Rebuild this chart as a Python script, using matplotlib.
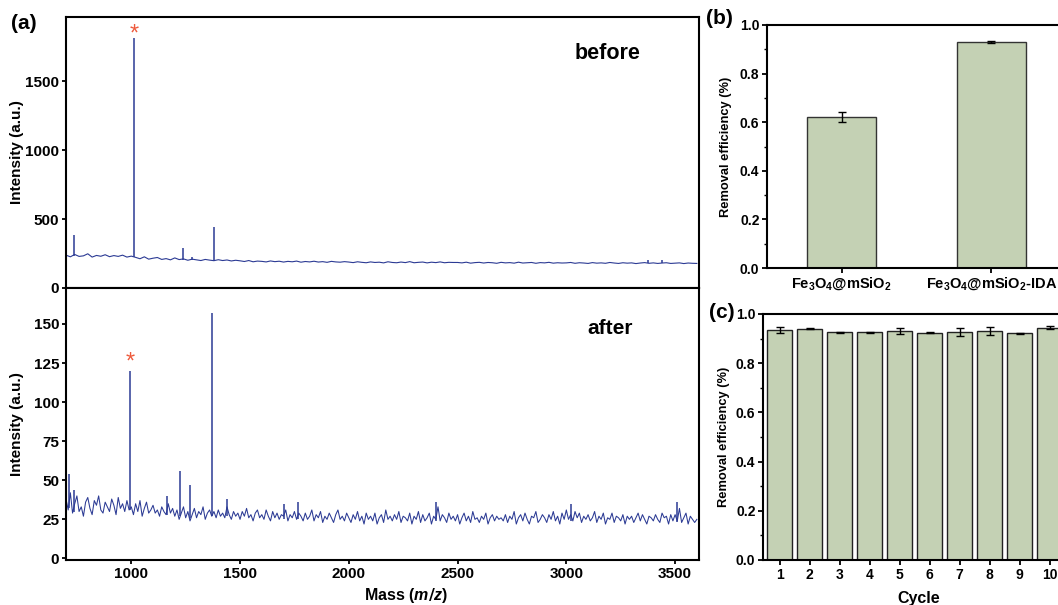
import numpy as np
import matplotlib
matplotlib.use("Agg")
import matplotlib.pyplot as plt
from matplotlib.ticker import MultipleLocator

plt.rcParams['font.family'] = ['Liberation Sans', 'DejaVu Sans']
plt.rcParams['font.weight'] = 'bold'
plt.rcParams['axes.labelweight'] = 'bold'
plt.rcParams['mathtext.fontset'] = 'custom'
plt.rcParams['mathtext.bf'] = 'Liberation Sans:bold'
plt.rcParams['mathtext.it'] = 'Liberation Sans:bold:italic'
plt.rcParams['mathtext.default'] = 'bf'

# ---- (a) MALDI spectra ----
# before: baseline read every 20 m/z (700..3600)
mass_before = np.arange(700, 3601, 20)
before_base = [238, 226, 243, 229, 233, 248, 224, 236, 230, 241, 227, 235, 229, 238, 224, 231,
               222, 212, 226, 209, 216, 221, 207, 213, 204, 218, 206, 211, 201, 209, 204, 199,
               207, 202, 198, 205, 199, 203, 196, 201,
               197, 192, 199, 190, 195, 193, 189, 196, 191, 194, 188, 193, 190, 195, 187, 192,
               189, 194, 188, 191, 186, 193, 189, 187, 191,
               188, 184, 190, 186, 183, 189, 185, 187, 182, 190, 185, 183, 188, 184, 191, 183,
               186, 188, 182, 187, 184, 189, 183, 186, 185,
               185, 182, 187, 180, 184, 186, 181, 185, 183, 179, 186, 182, 184, 180, 187, 181,
               183, 185, 179, 184, 182, 186, 180, 183, 181,
               182, 185, 179, 183, 181, 178, 184, 180, 182, 179, 185, 181, 178, 183, 180, 182,
               177, 181, 184, 179, 182, 178, 181, 183, 178, 180, 182, 177, 181, 179, 178]
before_peak_mz = [737, 1013, 1240, 1281, 1382, 3375, 3440]
before_peak_h = [384, 1810, 290, 225, 440, 205, 200]
before_peak_base = [232, 222, 205, 200, 196, 180, 180]

# after: baseline read every 10 m/z (700..3600)
mass_after = np.arange(700, 3601, 10)
after_base = [38, 31, 42, 29, 35, 40, 30, 33, 27, 36,
              39, 32, 28, 37, 34, 40, 31, 29, 36, 33,
              30, 38, 34, 28, 39, 32, 35, 30, 37, 31,
              33, 28, 35, 30, 37, 27, 32, 36, 29, 31,
              34, 29, 31, 27, 33, 30, 28, 35, 29, 32,
              27, 31, 25, 29, 33, 26, 30, 24, 28, 32,
              26, 30, 28, 33, 25, 29, 31, 27, 30, 26,
              31, 27, 29, 26, 33, 28, 25, 30, 27, 29,
              25, 30, 27, 32, 26, 28, 24, 29, 31, 26,
              28, 25, 31, 27, 24, 30, 26, 29, 25, 28,
              27, 31, 24, 28, 26, 30, 25, 29, 27, 24,
              29, 25, 27, 31, 24, 28, 26, 30, 23, 27,
              25, 29, 26, 23, 28, 31, 25, 27, 24, 29,
              26, 23, 28, 25, 30, 24, 27, 22, 29, 25,
              27, 24, 29, 22, 26, 28, 23, 31, 25, 27,
              24, 28, 25, 30, 23, 27, 26, 24, 29, 22,
              27, 25, 30, 23, 28, 24, 26, 29, 22, 27,
              25, 33, 24, 28, 26, 23, 29, 25, 27, 24,
              28, 22, 26, 29, 24, 27, 23, 30, 25, 26,
              23, 27, 25, 29, 22, 26, 28, 24, 27, 25,
              26, 24, 28, 23, 27, 25, 30, 22, 26, 28,
              24, 29, 25, 22, 27, 26, 30, 23, 25, 28,
              26, 23, 28, 25, 30, 24, 27, 22, 29, 25,
              31, 25, 28, 24, 30, 26, 29, 23, 27, 25,
              28, 24, 26, 30, 23, 27, 25, 29, 22, 26,
              25, 29, 23, 27, 26, 24, 28, 22, 27, 25,
              27, 23, 26, 29, 24, 28, 25, 22, 27, 26,
              24, 28, 25, 23, 29, 26, 27, 22, 28, 24,
              28, 24, 32, 23, 26, 29, 22, 27, 25, 23,
              25]
after_peak_mz = [714, 735, 995, 1165, 1226, 1268, 1369, 1440, 1700, 1765, 2400, 3020, 3510]
after_peak_h = [54, 44, 120, 40, 56, 47, 157, 38, 35, 36, 36, 35, 36]
after_peak_base = [32, 30, 31, 28, 27, 26, 27, 27, 25, 25, 24, 24, 23]

# ---- (b) removal efficiency of the two materials ----
materials = ['Fe$_3$O$_4$@mSiO$_2$', 'Fe$_3$O$_4$@mSiO$_2$-IDA']
mat_eff = [0.622, 0.930]
mat_err = [0.022, 0.003]

# ---- (c) reuse cycles ----
cycles = [1, 2, 3, 4, 5, 6, 7, 8, 9, 10]
cyc_eff = [0.935, 0.940, 0.925, 0.925, 0.930, 0.924, 0.927, 0.932, 0.922, 0.945]
cyc_err = [0.011, 0.003, 0.002, 0.002, 0.013, 0.002, 0.015, 0.017, 0.002, 0.006]

line_c = '#2b3a94'
star_c = '#ee5a3c'
bar_c = '#c4d1b4'

fig = plt.figure(figsize=(10.58, 6.05), dpi=100)
ax1 = fig.add_axes([0.0624, 0.524, 0.5983, 0.4479])
ax2 = fig.add_axes([0.0624, 0.0744, 0.5983, 0.4496])
axb = fig.add_axes([0.725, 0.557, 0.2826, 0.4017])
axc = fig.add_axes([0.7212, 0.0744, 0.2864, 0.4066])

for ax in (ax1, ax2):
    for s in ax.spines.values():
        s.set_linewidth(1.5)
    ax.tick_params(direction='out', width=1.3, length=3, pad=2, labelsize=11)
for ax in (axb, axc):
    for s in ax.spines.values():
        s.set_linewidth(1.5)
    ax.tick_params(direction='out', width=1.3, length=3.5, pad=2, labelsize=10)

# spectra
ax1.plot(mass_before, before_base, color=line_c, lw=0.8)
ax1.vlines(before_peak_mz, before_peak_base, before_peak_h, color=line_c, lw=1.1)
ax1.set_xlim(700, 3610)
ax1.set_ylim(0, 1965)
ax1.set_yticks([0, 500, 1000, 1500])
ax1.tick_params(axis='x', bottom=False, labelbottom=False)
ax1.set_ylabel('Intensity (a.u.)', fontsize=11)
ax1.text(1013, 1758, '*', color=star_c, fontsize=17, ha='center', va='bottom', fontweight='normal')
ax1.text(3190, 1700, 'before', fontsize=15.5, ha='center', va='center')

ax2.plot(mass_after, after_base, color=line_c, lw=0.75)
ax2.vlines(after_peak_mz, after_peak_base, after_peak_h, color=line_c, lw=1.1)
ax2.set_xlim(700, 3610)
ax2.set_ylim(-1, 173)
ax2.set_yticks([0, 25, 50, 75, 100, 125, 150])
ax2.set_xticks([1000, 1500, 2000, 2500, 3000, 3500])
ax2.set_ylabel('Intensity (a.u.)', fontsize=11)
ax2.set_xlabel('Mass ($\\mathit{m/z}$)', fontsize=11.5)
ax2.xaxis.set_label_coords(0.537, -0.096)
ax2.text(995, 118, '*', color=star_c, fontsize=17, ha='center', va='bottom', fontweight='normal')
ax2.text(3200, 147, 'after', fontsize=15, ha='center', va='center')

ax1.yaxis.set_label_coords(-0.066, 0.5)
ax2.yaxis.set_label_coords(-0.066, 0.5)

# (b)
xb = np.arange(len(materials))
axb.bar(xb, mat_eff, width=0.46, color=bar_c, edgecolor='#333333', lw=1.0)
axb.errorbar(xb, mat_eff, yerr=mat_err, fmt='none', ecolor='black', elinewidth=1.0, capsize=3, capthick=1.0)
axb.set_xlim(-0.5, 1.5)
axb.set_ylim(0, 1.0)
axb.set_xticks(xb)
axb.set_xticklabels(materials, fontsize=10.5)
axb.yaxis.set_major_locator(MultipleLocator(0.2))
axb.yaxis.set_minor_locator(MultipleLocator(0.1))
axb.tick_params(axis='y', which='minor', length=2.5, width=1.0)
axb.set_ylabel('Removal efficiency (%)', fontsize=9.3)
axb.yaxis.set_label_coords(-0.117, 0.5)

# (c)
axc.bar(cycles, cyc_eff, width=0.83, color=bar_c, edgecolor='#222222', lw=1.0)
axc.errorbar(cycles, cyc_eff, yerr=cyc_err, fmt='none', ecolor='black', elinewidth=1.0, capsize=3, capthick=1.0)
axc.set_xlim(0.45, 10.55)
axc.set_ylim(0, 1.0)
axc.set_xticks(cycles)
axc.yaxis.set_major_locator(MultipleLocator(0.2))
axc.yaxis.set_minor_locator(MultipleLocator(0.1))
axc.tick_params(axis='y', which='minor', length=2.5, width=1.0)
axc.set_ylabel('Removal efficiency (%)', fontsize=9.3)
axc.set_xlabel('Cycle', fontsize=11.5)
axc.xaxis.set_label_coords(0.515, -0.126)
axc.yaxis.set_label_coords(-0.109, 0.5)

fig.text(0.0105, 0.961, '(a)', fontsize=15, va='center', ha='left')
fig.text(0.667, 0.969, '(b)', fontsize=15, va='center', ha='left')
fig.text(0.670, 0.484, '(c)', fontsize=15, va='center', ha='left')

fig.savefig('out.png', dpi=100)
